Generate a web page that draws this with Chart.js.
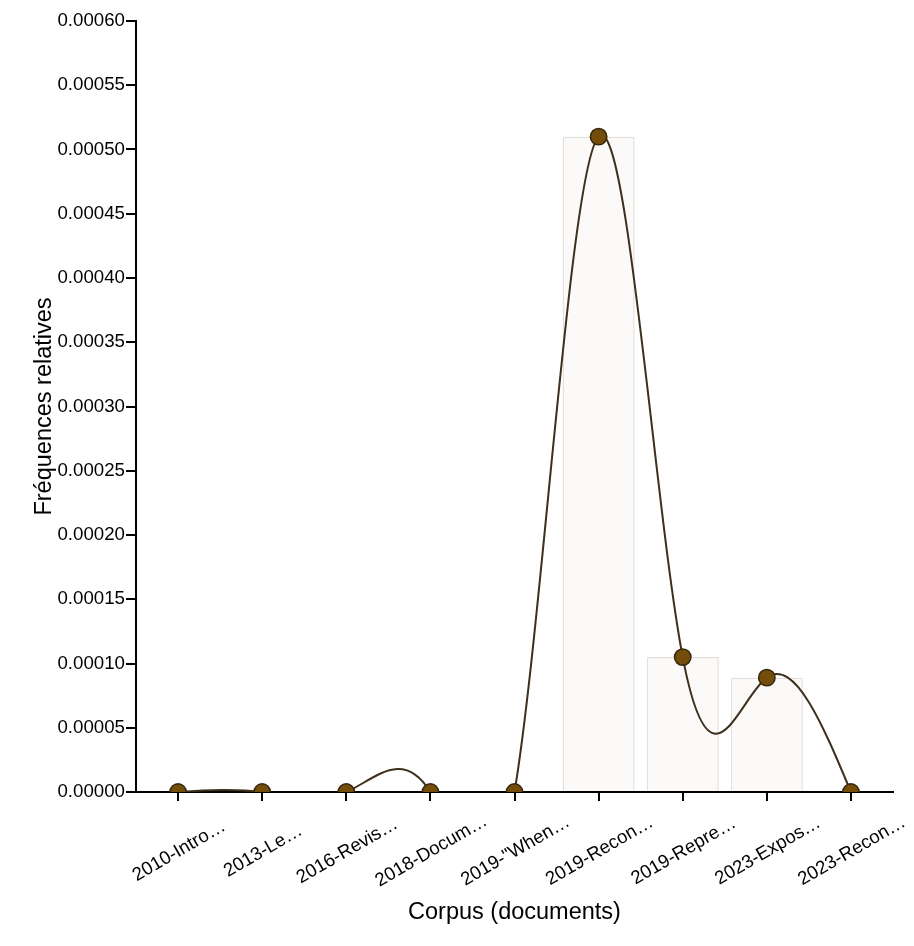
<!DOCTYPE html>
<html>
<head>
<meta charset="utf-8">
<script src="https://cdn.jsdelivr.net/npm/chart.js@4/dist/chart.umd.min.js"></script>
<style>
  body { margin: 0; background: #fff; }
  canvas { display: block; }
</style>
</head>
<body>
<canvas id="chart" width="914" height="946"></canvas>
<script>
// data
const docLabels = [
  "2010-Intro…", "2013-Le…", "2016-Revis…", "2018-Docum…", "2019-\"When…",
  "2019-Recon…", "2019-Repre…", "2023-Expos…", "2023-Recon…"
];
const relFreq = [0, 0, 0, 0, 0, 0.00051, 0.000105, 0.000089, 0];
const yMin = 0;
const yMax = 0.0006;
const yStep = 0.00005;
const xTitle = "Corpus (documents)";
const yTitle = "Fréquences relatives";

const fontFam = "'Liberation Sans', Arial, Helvetica, sans-serif";

// natural cubic spline control points (same maths as d3.curveNatural)
function controlPoints(x) {
  const n = x.length - 1;
  const a = new Array(n), b = new Array(n), r = new Array(n);
  let m;
  a[0] = 0; b[0] = 2; r[0] = x[0] + 2 * x[1];
  for (let i = 1; i < n - 1; ++i) { a[i] = 1; b[i] = 4; r[i] = 4 * x[i] + 2 * x[i + 1]; }
  a[n - 1] = 2; b[n - 1] = 7; r[n - 1] = 8 * x[n - 1] + x[n];
  for (let i = 1; i < n; ++i) { m = a[i] / b[i - 1]; b[i] -= m; r[i] -= m * r[i - 1]; }
  a[n - 1] = r[n - 1] / b[n - 1];
  for (let i = n - 2; i >= 0; --i) a[i] = (r[i] - a[i + 1]) / b[i];
  b[n - 1] = (x[n] + a[n - 1]) / 2;
  for (let i = 0; i < n - 1; ++i) b[i] = 2 * x[i + 1] - a[i + 1];
  return [a, b];
}

// draws the smooth line under the points, and the rotated labels + titles
const naturalLine = {
  id: "naturalLine",
  beforeDatasetDraw(chart, args) {
    if (args.index !== 0) return;
    const pts = chart.getDatasetMeta(0).data;
    const xs = pts.map(p => p.x);
    const ys = pts.map(p => p.y);
    const px = controlPoints(xs);
    const py = controlPoints(ys);
    const ctx = chart.ctx;
    const area = chart.chartArea;
    ctx.save();
    ctx.beginPath();
    ctx.rect(area.left, area.top, area.right - area.left, area.bottom - area.top);
    ctx.clip();
    ctx.beginPath();
    ctx.moveTo(xs[0], ys[0]);
    for (let i = 0; i < xs.length - 1; i++) {
      ctx.bezierCurveTo(px[0][i], py[0][i], px[1][i], py[1][i], xs[i + 1], ys[i + 1]);
    }
    ctx.strokeStyle = "#3d301c";
    ctx.lineWidth = 2;
    ctx.stroke();
    ctx.restore();
  },
  afterDraw(chart) {
    const ctx = chart.ctx;
    const xScale = chart.scales.x;
    const area = chart.chartArea;
    ctx.save();
    ctx.fillStyle = "#000";
    ctx.font = "18.7px " + fontFam;
    ctx.textAlign = "center";
    ctx.textBaseline = "middle";
    docLabels.forEach((lab, i) => {
      const x = xScale.getPixelForTick(i);
      ctx.save();
      ctx.translate(x + 1, area.bottom + 59);
      ctx.rotate(-Math.PI / 6);
      ctx.fillText(lab, 0, 0);
      ctx.restore();
    });
    ctx.font = "23.5px " + fontFam;
    ctx.fillText(xTitle, (area.left + area.right) / 2, 913);
    ctx.save();
    ctx.translate(45, (area.top + area.bottom) / 2);
    ctx.rotate(-Math.PI / 2);
    ctx.fillText(yTitle, 0, 0);
    ctx.restore();
    ctx.restore();
  }
};

const myChart = new Chart(document.getElementById("chart"), {
  data: {
    labels: docLabels,
    datasets: [
      {
        type: "line",
        data: relFreq,
        showLine: false,
        pointRadius: 8.2,
        pointHoverRadius: 8.2,
        pointBackgroundColor: "#744d0b",
        pointBorderColor: "#35270c",
        pointBorderWidth: 1.5,
        clip: 0
      },
      {
        type: "bar",
        data: relFreq,
        backgroundColor: "#fbfaf8",
        borderColor: "#e3e1dd",
        borderWidth: 1.5,
        categoryPercentage: 1,
        barPercentage: 0.857
      }
    ]
  },
  options: {
    responsive: false,
    devicePixelRatio: 1,
    animation: false,
    layout: { padding: { top: 21, right: 21, bottom: 0, left: 0 } },
    plugins: { legend: { display: false }, tooltip: { enabled: false } },
    scales: {
      x: {
        z: 1,
        offset: true,
        border: { display: true, color: "#000", width: 2 },
        grid: { display: true, offset: false, drawOnChartArea: false, color: "#000", lineWidth: 2, tickLength: 9 },
        ticks: { display: false },
        afterFit: s => { s.height = 154; }
      },
      y: {
        z: 1,
        min: yMin,
        max: yMax,
        border: { display: true, color: "#000", width: 2 },
        grid: { display: true, drawOnChartArea: false, color: "#000", lineWidth: 2, tickLength: 10 },
        ticks: {
          stepSize: yStep,
          padding: 1,
          color: "#000",
          font: { family: fontFam, size: 18.7 },
          callback: v => Number(v).toFixed(5)
        },
        afterFit: s => { s.width = 136; }
      }
    }
  },
  plugins: [naturalLine]
});
</script>
</body>
</html>
